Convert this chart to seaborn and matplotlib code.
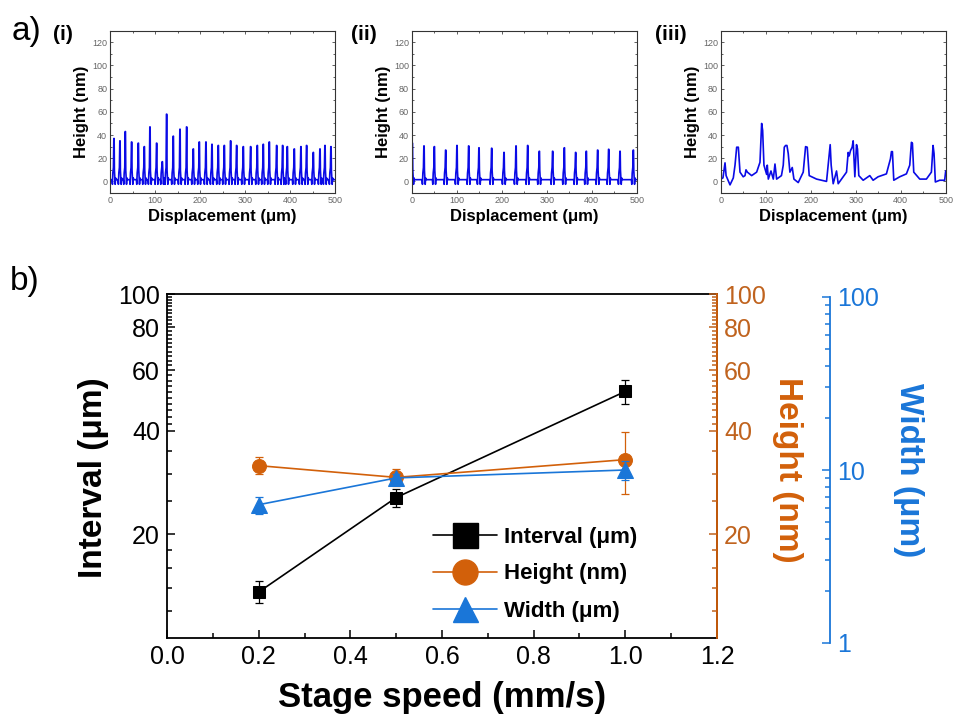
import numpy as np
import pandas as pd
import matplotlib
matplotlib.use("Agg")
import matplotlib.pyplot as plt
import seaborn as sns
from matplotlib.ticker import FixedLocator, MultipleLocator, LogLocator, NullFormatter, FixedFormatter
from matplotlib.lines import Line2D

# ---------------- data: panel b ----------------
speed = [0.2, 0.5, 1.0]
interval = [13.6, 25.6, 52.1]
interval_err = [1.0, 1.5, 4.2]
height = [31.7, 29.3, 33.0]
height_err = [1.8, 1.6, 6.8]
width = [6.3, 9.0, 10.0]
width_err = [0.7, 0.5, 1.2]

# ---------------- data: panel a profiles ----------------
# (i) 0.2 mm/s : peak positions (um) and peak heights (nm)
p1_x = [8.9, 22.2, 34.1, 48.1, 63.0, 76.3, 88.9, 103.7, 116.3, 125.9, 140.7, 155.6, 170.4,
        185.2, 198.5, 213.3, 226.7, 240.7, 254.1, 268.1, 281.5, 296.3, 312.6, 327.4, 340.7,
        354.1, 370.4, 383.7, 394.1, 409.6, 424.4, 437.0, 451.9, 466.7, 477.8, 491.1]
p1_h = [37, 35, 43, 34, 33, 30, 47, 33, 17, 58, 39, 45, 47, 28, 34, 34, 32, 31, 31, 35, 31,
        30, 30, 31, 32, 34, 31, 31, 30, 28, 30, 31, 25, 28, 31, 30]
# (ii) 0.5 mm/s
p2_x = [1.5, 27.4, 50.4, 75.6, 100.7, 126.7, 149.6, 177.8, 205.2, 231.9, 257.8, 283.7,
        313.3, 339.3, 364.4, 388.1, 413.3, 437.8, 463.0, 492.6]
p2_h = [33, 30.6, 30, 27, 31, 30.6, 29, 28.6, 25, 30.6, 31, 26, 26, 29, 25, 26, 27, 27.7, 26, 27]
# (iii) 1.0 mm/s : full trace vertices
p3_x = [0, 5, 9.6, 12, 20.7, 28, 31.8, 35.5, 39.2, 42.9, 50, 54, 56.2, 59.2, 68.8, 79.9, 87.3,
        91, 93.2, 96.1, 102.1, 103.5, 105.8, 111.7, 116.9, 120.6, 124.3, 135, 139, 141.3, 144.2,
        147.2, 150.1, 153.8, 159, 162.7, 172.3, 183.4, 188.6, 192.3, 196.7, 213, 235.2, 243.3,
        245.5, 250, 257.4, 261.1, 279.6, 283.3, 285.5, 288.4, 292.1, 294.4, 298.1, 301.8, 304,
        306.9, 316.6, 331.3, 338.7, 349.8, 368.3, 377.2, 379.4, 381.6, 384.6, 397.9, 412.7,
        420.1, 423.8, 426, 429, 442.3, 457.1, 468.2, 471.9, 474.1, 477, 486.7, 497.7, 500]
p3_y = [2, 3, 16, 5, -3, 3, 14, 29.5, 29.5, 8, 4, 5, 10, 8, 5, 8, 16.5, 50, 44, 14, 6, 14, 2,
        9, 2, 15, 2, 5, 14, 29.5, 31, 31, 24, 8, 12, 2, -1, 8, 30, 29.5, 5, 2, 0, 31.7, 14, -2,
        9, -2, 8, 25, 22, 26.5, 29.5, 35, 4, 31.7, 28, 5, 1, 5, 1, 4, 6.5, 19.5, 25.7, 25.7, 1,
        4, 6.5, 14, 33.7, 33, 8, 2, 2, 8, 31, 24, -0.5, 1, 1, 9]

shoulder = 12   # typical shoulder level on the rising side of each ridge (nm)
baseline = 1.5
trough = -2.5


def peak_trace(px, ph):
    xs, ys = [0.0], [baseline]
    for x, h in zip(px, ph):
        for dx, y in ((-4.5, baseline), (-3.5, trough), (-2.6, shoulder * 0.6), (-1.3, shoulder),
                      (-0.4, h), (0.3, h), (0.9, shoulder * 0.8), (1.6, 4.0), (2.6, trough),
                      (3.6, 3.0), (4.5, baseline)):
            xx = min(max(x + dx, 0), 500)
            xs.append(xx)
            ys.append(y)
    xs.append(500.0)
    ys.append(baseline)
    return xs, ys


sns.set_theme(style="ticks")
plt.rcParams["font.family"] = ["Liberation Sans", "DejaVu Sans"]
for key in ("text.color", "axes.labelcolor", "xtick.color", "ytick.color", "axes.edgecolor"):
    plt.rcParams[key] = "black"

W, H = 954, 717
fig = plt.figure(figsize=(W / 100, H / 100), dpi=100)


def fx(px):
    return px / W


def fy(py):
    return 1 - py / H


blue_line = "#0A0AE6"
prof = [peak_trace(p1_x, p1_h), peak_trace(p2_x, p2_h), (p3_x, p3_y)]
lefts = [110, 411.7, 720.7]
for i, (xs, ys) in enumerate(prof):
    axp = fig.add_axes([fx(lefts[i]), fy(193), fx(225), (193 - 30.7) / H])
    df = pd.DataFrame({"Displacement": xs, "Height": ys})
    sns.lineplot(data=df, x="Displacement", y="Height", ax=axp, color=blue_line, lw=1.2,
                 sort=False, estimator=None)
    axp.set_xlim(0, 500)
    axp.set_ylim(-10, 130)
    axp.xaxis.set_major_locator(MultipleLocator(100))
    axp.xaxis.set_minor_locator(MultipleLocator(50))
    axp.yaxis.set_major_locator(FixedLocator([0, 20, 40, 60, 80, 100, 120]))
    axp.yaxis.set_minor_locator(MultipleLocator(10))
    axp.tick_params(which="both", direction="in", top=True, right=True, labelsize=6.5,
                    labelcolor="#666666", color="#444444", width=0.6, pad=2)
    axp.tick_params(which="major", length=2.5)
    axp.tick_params(which="minor", length=1.5)
    for s in axp.spines.values():
        s.set_linewidth(0.8)
        s.set_color("#333333")
    axp.set_xlabel("Displacement (μm)", fontsize=12, fontweight="bold", labelpad=3)
    axp.set_ylabel("Height (nm)", fontsize=12, fontweight="bold", labelpad=2)

fig.text(fx(12), fy(40), "a)", fontsize=24, va="baseline")
fig.text(fx(53), fy(40), "(i)", fontsize=15, fontweight="bold", va="baseline")
fig.text(fx(351), fy(40), "(ii)", fontsize=15, fontweight="bold", va="baseline")
fig.text(fx(655), fy(40), "(iii)", fontsize=15, fontweight="bold", va="baseline")
fig.text(fx(10), fy(290), "b)", fontsize=24, va="baseline")

# ---------------- panel b ----------------
orange = "#D2600A"
orange_t = "#C0631E"
wblue = "#1A76D8"

ax = fig.add_axes([fx(167), fy(638), fx(550), 344 / H])
dfb = pd.DataFrame({"speed": speed, "interval": interval, "height": height, "width": width})

ax.set_yscale("log")
ax.errorbar(speed, interval, yerr=interval_err, fmt="none", ecolor="black", elinewidth=0.9,
            capsize=3, capthick=0.9, zorder=2)
sns.lineplot(data=dfb, x="speed", y="interval", ax=ax, color="black", marker="s",
             markersize=9, markeredgecolor="black", lw=1.2, zorder=3)
ax.set_xlim(0, 1.2)
ax.set_ylim(10, 100)
ax.set_xticks(np.round(np.arange(0, 1.21, 0.2), 1))
ax.set_xticklabels(["%.1f" % v for v in np.arange(0, 1.21, 0.2)])
ax.xaxis.set_minor_locator(MultipleLocator(0.1))
majors = [20, 40, 60, 80, 100]
minors = [12, 14, 16, 18, 25, 30, 35] + list(range(42, 60, 2)) + list(range(62, 80, 2)) + list(range(82, 100, 2))
ax.yaxis.set_major_locator(FixedLocator(majors))
ax.yaxis.set_minor_locator(FixedLocator(minors))
ax.yaxis.set_major_formatter(FixedFormatter([str(v) for v in majors]))
ax.yaxis.set_minor_formatter(NullFormatter())
ax.tick_params(which="both", direction="in", right=False, top=False, labelsize=18,
               color="black", labelcolor="black", width=1.1, pad=5)
ax.tick_params(which="major", length=6)
ax.tick_params(which="minor", length=3.5)
for s in ax.spines.values():
    s.set_linewidth(1.3)
    s.set_color("black")
ax.set_xlabel("Stage speed (mm/s)", fontsize=25, fontweight="bold", color="black")
ax.set_ylabel("Interval (μm)", fontsize=24, fontweight="bold", color="black")
ax.xaxis.set_label_coords(0.5, -0.125)
ax.yaxis.set_label_coords(-0.105, 0.465)

ax2 = ax.twinx()
ax2.set_yscale("log")
ax2.errorbar(speed, height, yerr=height_err, fmt="none", ecolor=orange, elinewidth=0.9,
             capsize=3, capthick=0.9, zorder=2)
sns.lineplot(data=dfb, x="speed", y="height", ax=ax2, color=orange, marker="o",
             markersize=10, markeredgecolor=orange, lw=1.2, zorder=3)
ax2.set_ylim(10, 100)
ax2.yaxis.set_major_locator(FixedLocator(majors))
ax2.yaxis.set_minor_locator(FixedLocator(minors))
ax2.yaxis.set_major_formatter(FixedFormatter([str(v) for v in majors]))
ax2.yaxis.set_minor_formatter(NullFormatter())
ax2.tick_params(axis="y", which="both", direction="in", labelsize=18, colors=orange_t,
                width=1.1, pad=5)
ax2.tick_params(axis="y", which="major", length=6)
ax2.tick_params(axis="y", which="minor", length=3.5)
for k, s in ax2.spines.items():
    s.set_visible(k == "right")
ax2.spines["right"].set_color(orange)
ax2.spines["right"].set_linewidth(1.3)
ax2.set_ylabel("Height (nm)", fontsize=24, fontweight="bold", color=orange, rotation=270,
               va="bottom")
ax2.yaxis.set_label_coords(1.10, 0.488)

ax3 = fig.add_axes([fx(167), fy(643), fx(550), 346 / H])
ax3.patch.set_visible(False)
ax3.set_yscale("log")
ax3.errorbar(speed, width, yerr=width_err, fmt="none", ecolor=wblue, elinewidth=0.9,
             capsize=3, capthick=0.9, zorder=2)
sns.lineplot(data=dfb, x="speed", y="width", ax=ax3, color=wblue, marker="^",
             markersize=11, markeredgecolor=wblue, lw=1.2, zorder=3)
ax3.set_xlim(0, 1.2)
ax3.set_ylim(1, 100)
for k, s in ax3.spines.items():
    s.set_visible(k == "right")
ax3.spines["right"].set_position(("outward", 113 * 0.72))   # 113 px at 100 dpi
ax3.spines["right"].set_color(wblue)
ax3.spines["right"].set_linewidth(1.3)
ax3.yaxis.set_label_position("right")
ax3.yaxis.tick_right()
ax3.set_xticks([])
ax3.set_xlabel("")
ax3.yaxis.set_major_locator(FixedLocator([1, 10, 100]))
ax3.yaxis.set_major_formatter(FixedFormatter(["1", "10", "100"]))
ax3.yaxis.set_minor_locator(LogLocator(base=10, subs=np.arange(2, 10)))
ax3.yaxis.set_minor_formatter(NullFormatter())
ax3.tick_params(axis="y", which="both", direction="in", labelsize=18, colors=wblue,
                width=1.1, pad=5)
ax3.tick_params(axis="y", which="major", length=6)
ax3.tick_params(axis="y", which="minor", length=3.5)
ax3.set_ylabel("Width (μm)", fontsize=24, fontweight="bold", color=wblue, rotation=270,
               va="bottom")
ax3.yaxis.set_label_coords(1.32, 0.5)

handles = [
    Line2D([], [], color="black", lw=1.2, marker="s", markersize=18),
    Line2D([], [], color=orange, lw=1.2, marker="o", markersize=18),
    Line2D([], [], color=wblue, lw=1.2, marker="^", markersize=18),
]
labels = ["Interval (μm)", "Height (nm)", "Width (μm)"]
for a in (ax, ax2, ax3):
    if a.get_legend() is not None:
        a.get_legend().remove()
leg = ax3.legend(handles, labels, loc="center left",
                 bbox_to_anchor=((433 - 167) / 550, (643 - 574) / 346),
                 frameon=False, handlelength=2.9, handletextpad=0.3, labelspacing=0.72,
                 borderpad=0, borderaxespad=0,
                 prop={"family": ["Liberation Sans", "DejaVu Sans"], "weight": "bold", "size": 16})
for t in leg.get_texts():
    t.set_color("black")

fig.savefig("out.png", dpi=100)
